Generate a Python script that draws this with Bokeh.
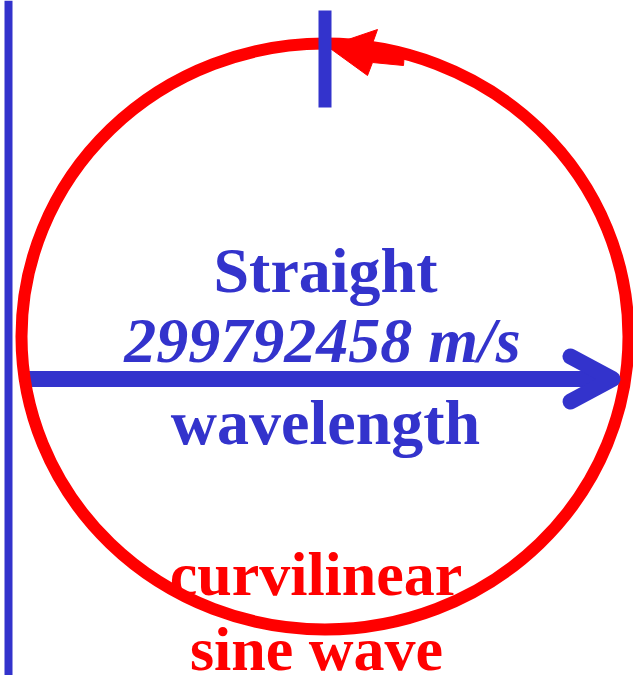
from bokeh.plotting import figure
from bokeh.models import Range1d
from bokeh.core.properties import value
from bokeh.embed import file_html
from bokeh.resources import INLINE

# ---- diagram data (reference pixel coordinates) ----
BLUE = "#3333CC"
RED = "#FF0000"

ellipse_center = [324.5, 336]
ellipse_size = [607, 586]

left_bar_x = [8, 8]
left_bar_y = [0, 675]

top_tick_x = [324.5, 324.5]
top_tick_y = [10, 107]

shaft_x = [24, 612]
shaft_y = [378.5, 378.5]

head_x = [570, 612, 570]
head_y = [356, 378.5, 401]

red_head_x = [327, 377, 372, 404, 403, 372, 367]
red_head_y = [46, 29, 43, 51, 65, 62, 75]

blue_labels = ["Straight", "wavelength"]
blue_label_x = [325, 325]
blue_label_y = [270, 422]

speed_label = ["299792458 m/s"]
speed_x = [322]
speed_y = [340]

red_labels = ["curvilinear", "sine wave"]
red_label_x = [315.5, 316]
red_label_y = [573, 648]

p = figure(width=633, height=675, output_backend="svg", toolbar_location=None,
           x_range=Range1d(0, 633), y_range=Range1d(675, 0),
           x_axis_location=None, y_axis_location=None, min_border=0)
p.outline_line_color = None
p.grid.visible = False
p.background_fill_color = "white"
p.border_fill_color = "white"

# blue vertical line at left
p.line(left_bar_x, left_bar_y, line_color=BLUE, line_width=8)
# blue arrow shaft (under the circle)
p.line(shaft_x, shaft_y, line_color=BLUE, line_width=16, line_cap="butt")

# red ellipse
p.ellipse(x=[ellipse_center[0]], y=[ellipse_center[1]], width=[ellipse_size[0]],
          height=[ellipse_size[1]], fill_alpha=0, line_color=RED, line_width=12)
# red arrowhead on top
p.patch(red_head_x, red_head_y, fill_color=RED, line_color=RED, line_width=1)

# blue arrowhead (open, round caps)
p.line(head_x, head_y, line_color=BLUE, line_width=16, line_cap="round", line_join="round")

# blue tick at top
p.line(top_tick_x, top_tick_y, line_color=BLUE, line_width=13)

font = value("Liberation Serif")
p.text(x=blue_label_x, y=blue_label_y, text=blue_labels, text_font=font,
       text_font_size="64px", text_font_style="bold", text_color=BLUE,
       text_align="center", text_baseline="alphabetic")
p.text(x=speed_x, y=speed_y, text=speed_label, text_font=font,
       text_font_size="64px", text_font_style="bold italic", text_color=BLUE,
       text_align="center", text_baseline="alphabetic")
p.text(x=red_label_x, y=red_label_y, text=red_labels, text_font=font,
       text_font_size="62px", text_font_style="bold", text_color=RED,
       text_align="center", text_baseline="alphabetic")

open("out.html", "w").write(file_html(p, INLINE))
